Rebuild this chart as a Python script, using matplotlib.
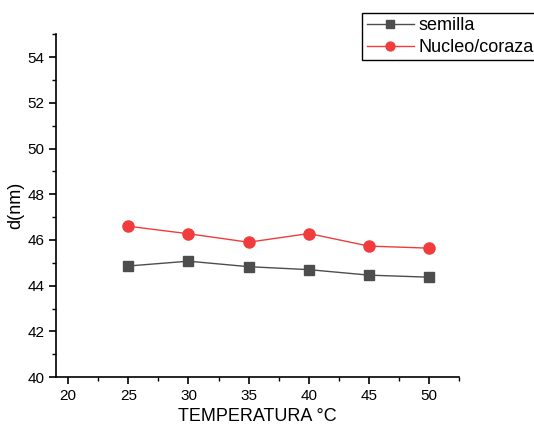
import matplotlib.pyplot as plt
from matplotlib.ticker import MultipleLocator

plt.rcParams['font.family'] = ['Liberation Sans', 'DejaVu Sans']

temperatura = [25, 30, 35, 40, 45, 50]
semilla = [44.86, 45.07, 44.83, 44.70, 44.46, 44.37]
nucleo = [46.60, 46.27, 45.90, 46.28, 45.73, 45.64]

fig = plt.figure(figsize=(5.34, 4.28), dpi=100)
ax = fig.add_axes([0.105, 0.119, 0.755, 0.801])

ax.plot(temperatura, semilla, color='#4d4d4d', lw=1, marker='s', ms=7, label='semilla')
ax.plot(temperatura, nucleo, color='#f03c3c', lw=1, marker='o', ms=8, label='Nucleo/coraza')

ax.set_xlim(19, 52.5)
ax.set_ylim(40, 55)
ax.xaxis.set_major_locator(MultipleLocator(5))
ax.xaxis.set_minor_locator(MultipleLocator(2.5))
ax.yaxis.set_major_locator(MultipleLocator(2))
ax.yaxis.set_minor_locator(MultipleLocator(1))

for s in ['top', 'right']:
    ax.spines[s].set_visible(False)
for s in ['left', 'bottom']:
    ax.spines[s].set_linewidth(1.2)
ax.tick_params(which='major', length=5, width=1.2, labelsize=11)
ax.tick_params(which='minor', length=3, width=1)

ax.set_xlabel('TEMPERATURA °C', fontsize=13, labelpad=4)
ax.set_ylabel('d(nm)', fontsize=13, labelpad=2)

leg = fig.legend(loc='upper left', bbox_to_anchor=(0.678, 0.97), fontsize=13,
                 fancybox=False, framealpha=1, edgecolor='black', markerscale=0.8,
                 borderpad=0.25, handlelength=2.6, handletextpad=0.3, labelspacing=0.25,
                 borderaxespad=0)
leg.get_frame().set_linewidth(1)

plt.savefig('out.png', dpi=100)
